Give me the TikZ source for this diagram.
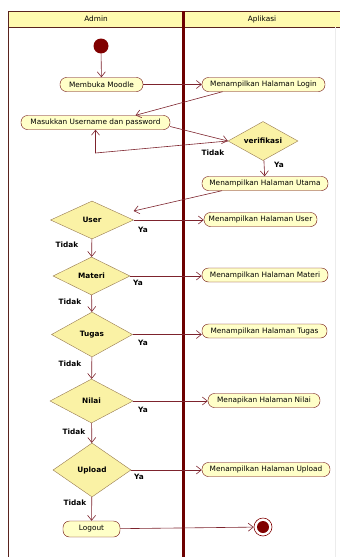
\documentclass[tikz,border=0pt]{standalone}
\usepackage{fontspec}
\setmainfont{DejaVu Sans}
\usetikzlibrary{shapes.geometric,arrows.meta}

\definecolor{umlred}{RGB}{128,0,0}
\definecolor{umlline}{RGB}{125,35,45}
\definecolor{umlfill}{RGB}{255,255,200}
\definecolor{umldec}{RGB}{250,242,165}
\definecolor{umldecline}{RGB}{150,120,80}
\definecolor{umlhead}{RGB}{255,250,175}
\definecolor{umlframe}{RGB}{90,35,30}

\tikzset{
	act/.style={draw=umlred!80!black, fill=umlfill, rounded corners=6.5pt, minimum height=14pt,
		inner sep=0pt, font=\fontsize{7.35}{8}\selectfont},
	dec/.style={diamond, draw=umldecline, fill=umldec, aspect=2, inner sep=0pt,
		font=\bfseries\fontsize{7.35}{8}\selectfont},
	flow/.style={draw=umlline, line width=0.6pt, -{Straight Barb[length=5pt,width=8pt]}},
	lbl/.style={inner sep=0pt, font=\bfseries\fontsize{7.35}{8}\selectfont}
}

\begin{document}
\begin{tikzpicture}[x=1pt,y=-1pt]
\useasboundingbox (0,0) rectangle (340,557);

% swimlanes
\fill[umlhead] (8,11) rectangle (340,27);
\draw[umlframe, line width=1pt] (340,11) -- (8,11) -- (8,557);
\draw[umlframe, line width=1pt] (8,27) -- (340,27);
\draw[gray!15] (335,27) -- (335,557);
\draw[umlred!85!black, line width=3pt] (183,11) -- (183,557);
\node[font=\fontsize{7.35}{8}\selectfont] (admin) at (96,19) {Admin};
\node[font=\fontsize{7.35}{8}\selectfont] (aplikasi) at (262,19) {Aplikasi};

% start / end
\node[circle, fill=umlred, inner sep=0pt, minimum size=15pt] (start) at (101,46) {};
\node[circle, draw=umlred, fill=white, line width=0.6pt, inner sep=0pt, minimum size=18pt] (end) at (263,527) {};
\fill[umlred] (end) circle (6);

% activities
\node[act, minimum width=83pt] (moodle) at (101.5,84.5) {Membuka Moodle};
\node[act, minimum width=123pt] (login) at (263.5,84.5) {Menampilkan Halaman Login};
\node[act, minimum width=149pt] (masuk) at (95.5,122.5) {Masukkan Username dan password};
\node[act, minimum width=126pt] (utama) at (265,183.5) {Menampilkan Halaman Utama};
\node[act, minimum width=113pt] (huser) at (260.5,219.5) {Menampilkan Halaman User};
\node[act, minimum width=126pt] (hmateri) at (265,275) {Menampilkan Halaman Materi};
\node[act, minimum width=125pt] (htugas) at (264.5,331) {Menampilkan Halaman Tugas};
\node[act, minimum width=112pt] (hnilai) at (264,400.5) {Menapikan Halaman Nilai};
\node[act, minimum width=128pt] (hupload) at (266,469.5) {Menampilkan Halaman Upload};
\node[act, minimum width=57pt, minimum height=16pt] (logout) at (91.5,529) {Logout};

% decisions
\node[dec, minimum width=70pt, minimum height=39pt] (verif) at (263,141) {verifikasi};
\node[dec, minimum width=83pt, minimum height=38pt] (user) at (92,220) {User};
\node[dec, minimum width=77pt, minimum height=38pt] (materi) at (91.5,276) {Materi};
\node[dec, minimum width=81pt, minimum height=45pt] (tugas) at (92,334.5) {Tugas};
\node[dec, minimum width=83pt, minimum height=44pt] (nilai) at (91.5,401) {Nilai};
\node[dec, minimum width=78pt, minimum height=54pt] (upload) at (92,470) {Upload};

% flows
\draw[flow] (start) -- (moodle);
\draw[flow] (moodle) -- (login);
\draw[flow] ([xshift=-41pt]login.south) -- ([xshift=40pt]masuk.north);
\draw[flow] ([yshift=-4pt]masuk.east) -- (verif.west);
\coordinate (back) at (95.5,153);
\draw[flow] (verif.west) -- (back) -- (masuk.south);
\draw[flow] (verif) -- (utama);
\draw[flow] ([xshift=-43pt]utama.south) -- ([yshift=9pt]user.east);

\foreach \a/\b in {user/materi, materi/tugas, tugas/nilai, nilai/upload, upload/logout}
	\draw[flow] (\a) -- (\b);
\foreach \a/\b in {user/huser, materi/hmateri, tugas/htugas, nilai/hnilai, upload/hupload}
	\draw[flow] (\a.east) -- (\a.east -| \b.west);
\draw[flow] (logout) -- (end);

% guards
\node[lbl] (t0) at (213,153) {Tidak};
\node[lbl] (y0) at (279,165) {Ya};
\foreach \x/\y/\u/\v in {143/230/67/245, 138/283/70/302, 143/343/70/364, 143/410/74/432, 139/477/75/503}
{
	\node[lbl] at (\x,\y) {Ya};
	\node[lbl] at (\u,\v) {Tidak};
}

\end{tikzpicture}
\end{document}
